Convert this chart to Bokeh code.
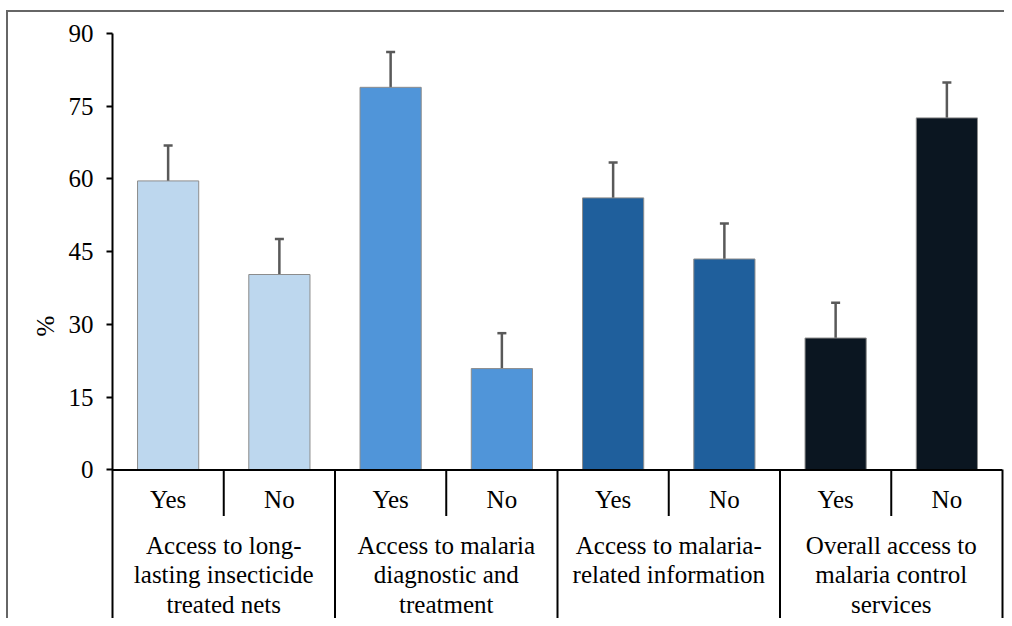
from bokeh.plotting import figure
from bokeh.models import (FactorRange, Range1d, ColumnDataSource, FixedTicker,
                          Whisker, TeeHead, LinearAxis)
from bokeh.core.properties import value
from bokeh.embed import file_html
from bokeh.resources import INLINE

# ---- data ----
groups = [
    "Access to long-\nlasting insecticide\ntreated nets",
    "Access to malaria\ndiagnostic and\ntreatment",
    "Access to malaria-\nrelated information",
    "Overall access to\nmalaria control\nservices",
]
answers = ["Yes", "No"]
percent = [59.6, 40.3, 78.9, 20.9, 56.1, 43.5, 27.2, 72.6]
error = [7.3, 7.3, 7.3, 7.3, 7.3, 7.3, 7.3, 7.3]
group_colors = ["#BDD7EE", "#5095D9", "#1F5F9C", "#0B1621"]
y_ticks = [0, 15, 30, 45, 60, 75, 90]

FONT = value("Liberation Serif")
FS = "25px"

factors = [(g, a) for g in groups for a in answers]
colors = [group_colors[i // 2] for i in range(len(factors))]
src = ColumnDataSource(dict(
    x=factors, top=percent, color=colors,
    upper=[v + e for v, e in zip(percent, error)],
    lower=[v - e for v, e in zip(percent, error)],
))

y_bottom = -30.64
p = figure(width=1004, height=618, output_backend="svg", toolbar_location=None,
           x_range=FactorRange(*factors, factor_padding=0, group_padding=0,
                               range_padding=0),
           y_range=Range1d(y_bottom, 90),
           min_border_left=112, min_border_right=2, min_border_top=33,
           min_border_bottom=0)
p.styles = {"box-shadow": "inset 6px 10px 0 0 #ffffff, inset 8px 12px 0 0 #666666"}
p.border_fill_color = None
p.background_fill_color = None
p.outline_line_color = None
p.xgrid.visible = False
p.ygrid.visible = False
p.xaxis.visible = False

ya = p.yaxis[0]
ya.bounds = (y_bottom, 90)
ya.ticker = FixedTicker(ticks=y_ticks)
ya.minor_tick_line_color = None
ya.major_tick_in = 0
ya.major_tick_out = 6
ya.major_tick_line_width = 2
ya.major_tick_line_color = "black"
ya.axis_line_width = 2
ya.axis_line_color = "black"
ya.major_label_text_font = "Liberation Serif"
ya.major_label_text_font_size = FS
ya.major_label_text_color = "black"
ya.major_label_standoff = 13
ya.axis_label = "%"
ya.axis_label_text_font = "Liberation Serif"
ya.axis_label_text_font_size = FS
ya.axis_label_text_font_style = "normal"
ya.axis_label_text_color = "black"
ya.axis_label_standoff = 7

# right closing line of the category axis
ra = LinearAxis(bounds=(y_bottom, 0), ticker=FixedTicker(ticks=[]),
                axis_line_width=2, axis_line_color="black",
                major_tick_out=0, major_tick_in=0, minor_tick_out=0,
                minor_tick_in=0, major_label_standoff=0,
                major_label_text_font_size="0px")
p.add_layout(ra, "right")

p.vbar(x="x", top="top", width=0.55, source=src, fill_color="color",
       line_color="#8c8c8c", line_width=1)

p.add_layout(Whisker(source=src, base="x", upper="upper", lower="lower",
                     line_color="#595959", line_width=2.5,
                     upper_head=TeeHead(size=9, line_color="#595959", line_width=2.5),
                     lower_head=TeeHead(size=9, line_color="#595959", line_width=2.5)))

# category axis drawn in data space below zero
sep_short_end = -9.5
left_edge = (groups[0], answers[0], -0.5)
right_edge = (groups[-1], answers[-1], 0.5)
p.segment(x0=[left_edge], y0=[0], x1=[right_edge], y1=[0],
          line_color="black", line_width=2)
long_x = [(g, answers[0], -0.5) for g in groups[1:]]
p.segment(x0=long_x, y0=[0] * len(long_x), x1=long_x,
          y1=[y_bottom] * len(long_x), line_color="black", line_width=2)
short_x = [(g, answers[1], -0.5) for g in groups]
p.segment(x0=short_x, y0=[0] * len(short_x), x1=short_x,
          y1=[sep_short_end] * len(short_x), line_color="black", line_width=2)

p.text(x=factors, y=[-6.0] * len(factors), text=[f[1] for f in factors],
       text_font=FONT, text_font_size=value(FS), text_color="black",
       text_align="center", text_baseline="middle")
p.text(x=groups, y=[-12.85] * len(groups), text=groups,
       text_font=FONT, text_font_size=value(FS), text_color="black",
       text_align="center", text_baseline="top", text_line_height=1.08)

open("out.html", "w").write(file_html(p, INLINE))
